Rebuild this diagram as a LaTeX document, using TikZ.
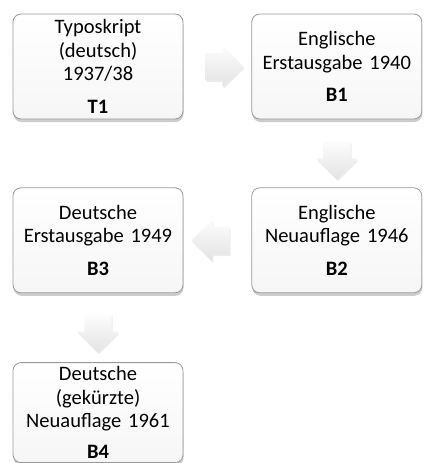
\documentclass[tikz,border=0pt]{standalone}
\usepackage{fontspec}
\setmainfont{Carlito}
\usepackage{tikz}
\usetikzlibrary{positioning,shapes.arrows,shadows,calc}
\tikzset{
box/.style= {rectangle, rounded corners=8pt, draw=gray!80, line width=0.8pt, align=center,
  text width=164pt, minimum height=105pt, inner sep=3pt, top color=white, bottom color=gray!7,
  font=\fontsize{20.5}{23.5}\selectfont,
  drop shadow={shadow xshift=0.5pt, shadow yshift=-3pt, opacity=0.4}},
pfeil/.style= {single arrow, draw=none, minimum height=38pt, single arrow head extend=7pt,
  top color=gray!2, bottom color=gray!22,
  drop shadow={shadow xshift=1pt, shadow yshift=-2pt, opacity=0.15}}
}

\begin{document}
\begin{tikzpicture}
\useasboundingbox (0,0) rectangle (423pt,-463pt);

\node[box] (T1) at (98pt,-66.5pt) {Typoskript\\(deutsch)\\1937/38\\[9pt]\textbf{T1}};
\node[box, right=68pt of T1] (B1) {Englische\\Erstausgabe 1940\\[9pt]\textbf{B1}};
\node[box, below=68pt of B1] (B2) {Englische\\Neuauflage 1946\\[9pt]\textbf{B2}};
\node[box, left=68pt of B2] (B3) {Deutsche\\Erstausgabe 1949\\[9pt]\textbf{B3}};
\node[box, below=69pt of B3, minimum height=100pt] (B4) {Deutsche\\(gekürzte)\\Neuauflage 1961\\[7pt]\textbf{B4}};

% horizontal arrows: body width from inner ysep, vertical ones from inner xsep
\foreach \a/\b/\r/\xs/\ys in {T1/B1/0/0/13.5, B1/B2/270/13.5/0, B2/B3/180/0/13.5, B3/B4/270/13.5/0}
  \node[pfeil, shape border rotate=\r, inner xsep=\xs pt, inner ysep=\ys pt] (p\a) at ($(\a.center)!0.5!(\b.center)$) {};
\end{tikzpicture}
\end{document}
